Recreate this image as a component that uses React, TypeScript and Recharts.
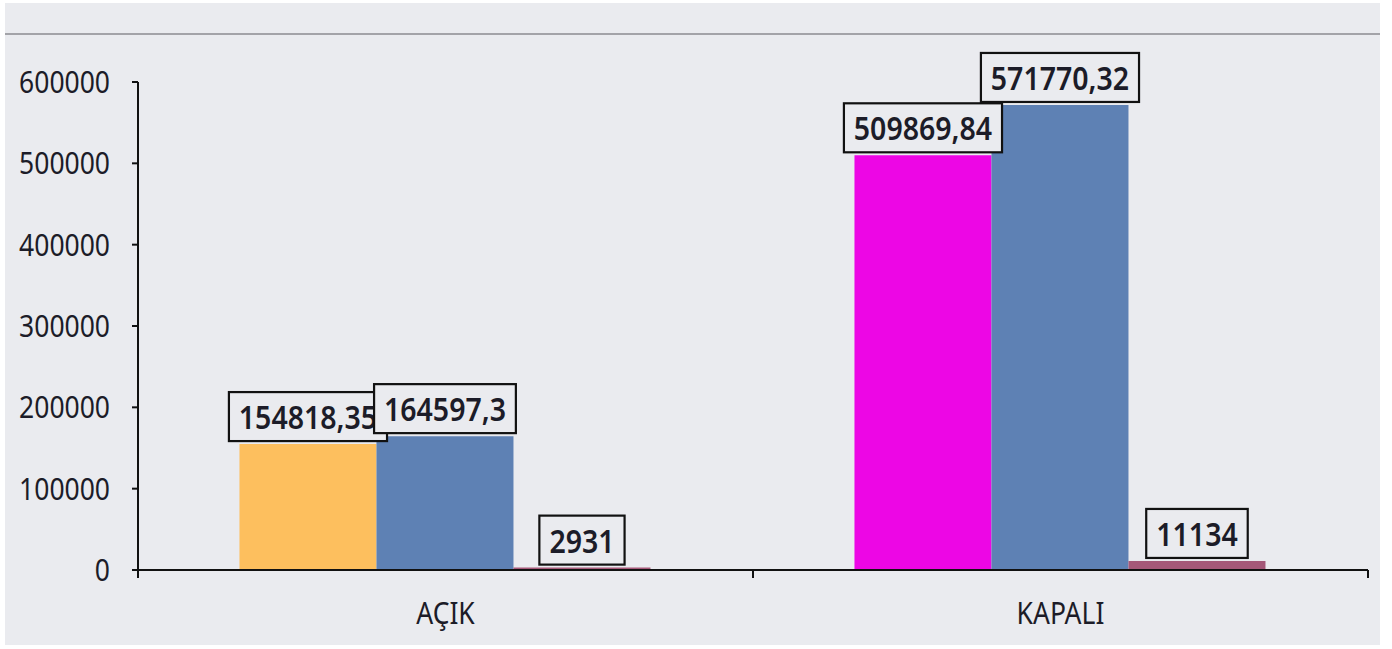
import React from "react";
import { BarChart, Bar, XAxis, YAxis, Cell, LabelList } from "recharts";

const categories = ["AÇIK", "KAPALI"];
const seri1 = [154818.35, 509869.84];
const seri2 = [164597.3, 571770.32];
const seri3 = [2931, 11134];
const seri1Colors = ["#FDBF5E", "#ED06E5"];
const yTicks = [0, 100000, 200000, 300000, 400000, 500000, 600000];

const data = categories.map((name, i) => ({
  name,
  s1: seri1[i],
  s2: seri2[i],
  s3: seri3[i],
}));

const W = 1392;
const H = 649;
const LEFT = 138;
const RIGHT = 24;
const BG = "#EAEBEF";
const TXT = "#1c1c28";
const band = (W - LEFT - RIGHT) / categories.length;

const fmt = (v: number) => String(v).replace(".", ",");

const YTick = (props: any) => {
  const { x, y, payload } = props;
  return (
    <g transform={`translate(${x},${y}) scale(1,1.15)`}>
      <text x={0} y={0} dy="0.36em" textAnchor="end" fontSize={26.5} fill={TXT} fontFamily="'Noto Sans', sans-serif">
        {payload.value}
      </text>
    </g>
  );
};

const XTick = (props: any) => {
  const { x, y, payload, index } = props;
  return (
    <g>
      <line x1={x - band / 2} x2={x - band / 2} y1={y} y2={y + 8} stroke="#111" strokeWidth={2} />
      {index === categories.length - 1 && (
        <line x1={x + band / 2} x2={x + band / 2} y1={y} y2={y + 8} stroke="#111" strokeWidth={2} />
      )}
      <g transform={`translate(${x},${y + 54}) scale(1,1.15)`}>
        <text x={0} y={0} textAnchor="middle" fontSize={26.5} fill={TXT} fontFamily="'Noto Sans', sans-serif">
          {payload.value}
        </text>
      </g>
    </g>
  );
};

const BoxLabel = (props: any) => {
  const { x, y, width, value } = props;
  const s = fmt(value);
  const fs = 28.5;
  let tw = 0;
  for (const ch of s) tw += ch === "," ? fs * 0.27 : fs * 0.572;
  const bw = tw + 20;
  const bh = 49;
  const cx = x + width / 2;
  const top = y - 3 - bh;
  return (
    <g>
      <rect x={cx - bw / 2} y={top} width={bw} height={bh} fill={BG} stroke="#111" strokeWidth={2.2} />
      <g transform={`translate(${cx},${top + 37}) scale(1,1.16)`}>
        <text x={0} y={0} textAnchor="middle" fontSize={fs} fontWeight={600} fill={TXT} fontFamily="'Noto Sans', sans-serif">
          {s}
        </text>
      </g>
    </g>
  );
};

export default function App() {
  return (
    <div style={{ position: "absolute", left: 0, top: 0, width: W, height: H, background: "#fff" }}>
      <div style={{ position: "absolute", left: 5, top: 3, width: 1375, height: 642, background: BG }} />
      <div style={{ position: "absolute", left: 5, top: 33, width: 1375, height: 2, background: "#A3A3A8" }} />
      <div style={{ position: "absolute", left: 0, top: 0 }}>
        <BarChart
          width={W}
          height={H}
          data={data}
          margin={{ top: 82, right: RIGHT, bottom: 39, left: 0 }}
          barCategoryGap="16.5%"
          barGap={0}
        >
          <XAxis
            dataKey="name"
            height={40}
            axisLine={{ stroke: "#111", strokeWidth: 2 }}
            tickLine={false}
            tickSize={0}
            tickMargin={0}
            tick={<XTick />}
            interval={0}
          />
          <YAxis
            width={LEFT}
            domain={[0, 600000]}
            ticks={yTicks}
            axisLine={{ stroke: "#111", strokeWidth: 2 }}
            tickLine={{ stroke: "#111", strokeWidth: 2 }}
            tickSize={6}
            tickMargin={22}
            tick={<YTick />}
          />
          <Bar dataKey="s1" isAnimationActive={false}>
            {data.map((d, i) => (
              <Cell key={d.name} fill={seri1Colors[i]} />
            ))}
            <LabelList dataKey="s1" content={<BoxLabel />} />
          </Bar>
          <Bar dataKey="s2" fill="#5E81B4" isAnimationActive={false}>
            <LabelList dataKey="s2" content={<BoxLabel />} />
          </Bar>
          <Bar dataKey="s3" fill="#A55878" isAnimationActive={false}>
            <LabelList dataKey="s3" content={<BoxLabel />} />
          </Bar>
        </BarChart>
      </div>
    </div>
  );
}
